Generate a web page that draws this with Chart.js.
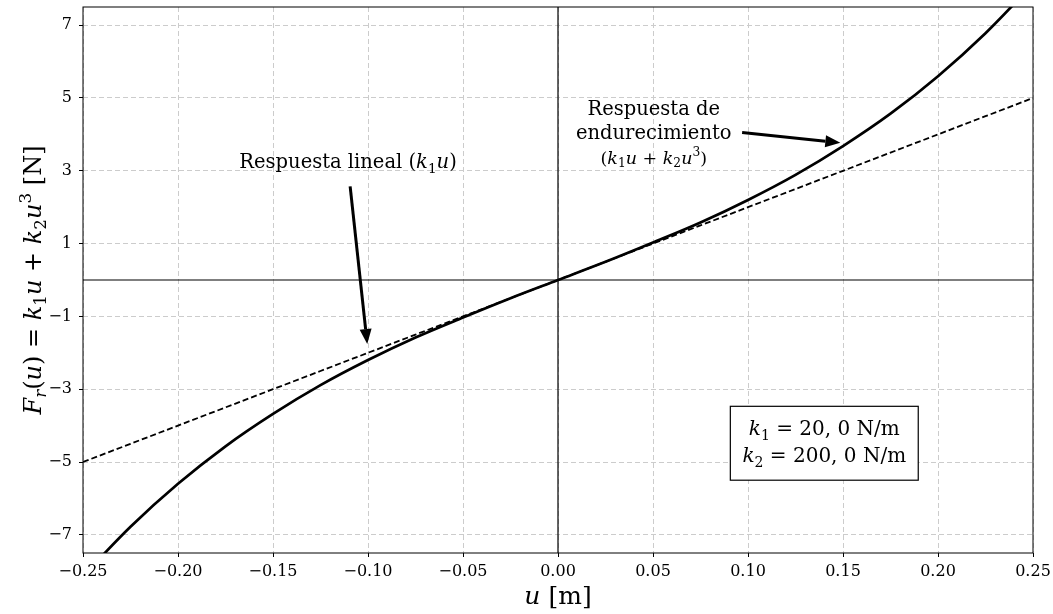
<!DOCTYPE html>
<html>
<head>
<meta charset="utf-8">
<script src="https://cdn.jsdelivr.net/npm/chart.js@4.4.1/dist/chart.umd.min.js"></script>
<style>html,body{margin:0;padding:0;background:#fff}</style>
</head>
<body>
<canvas id="chart" width="1053" height="614"></canvas>
<script>
// desplazamiento u [m]
const uVals = [-0.25, -0.225, -0.2, -0.175, -0.15, -0.125, -0.1, -0.075, -0.05, -0.025, 0,
               0.025, 0.05, 0.075, 0.1, 0.125, 0.15, 0.175, 0.2, 0.225, 0.25];
// respuesta lineal k1*u
const fLinear = [-5, -4.5, -4, -3.5, -3, -2.5, -2, -1.5, -1, -0.5, 0,
                 0.5, 1, 1.5, 2, 2.5, 3, 3.5, 4, 4.5, 5];
// respuesta de endurecimiento k1*u + k2*u^3
const fCubic = [-8.13, -6.78, -5.6, -4.57, -3.68, -2.89, -2.2, -1.58, -1.03, -0.5, 0,
                0.5, 1.03, 1.58, 2.2, 2.89, 3.68, 4.57, 5.6, 6.78, 8.13];
const xTicks = [-0.25, -0.2, -0.15, -0.1, -0.05, 0, 0.05, 0.1, 0.15, 0.2, 0.25];
const yTicks = [-7, -5, -3, -1, 1, 3, 5, 7];

const FAM = "'DejaVu Serif'";

function toPoints(ys) {
    return uVals.map((u, i) => ({x: u, y: ys[i]}));
}

function fmtMinus(s) {
    return s.replace('-', '\u2212');
}

// draw a run of text pieces: [text, kind] kind = r | i | sub | isub | sup
function mathText(ctx, parts, x, y, size, align) {
    const fontFor = k => {
        const it = (k === 'i' || k === 'isub');
        const small = (k === 'sub' || k === 'isub' || k === 'sup');
        return (it ? 'italic ' : '') + (small ? size * 0.7 : size) + 'px ' + FAM;
    };
    let w = 0;
    parts.forEach(p => { ctx.font = fontFor(p[1]); w += ctx.measureText(p[0]).width; });
    let cx = align === 'center' ? x - w / 2 : x;
    ctx.textAlign = 'left';
    ctx.textBaseline = 'alphabetic';
    ctx.fillStyle = '#000';
    parts.forEach(p => {
        ctx.font = fontFor(p[1]);
        let dy = 0;
        if (p[1] === 'sub' || p[1] === 'isub') dy = size * 0.22;
        if (p[1] === 'sup') dy = -size * 0.42;
        ctx.fillText(p[0], cx, y + dy);
        cx += ctx.measureText(p[0]).width;
    });
}

function arrow(ctx, x1, y1, x2, y2) {
    const ang = Math.atan2(y2 - y1, x2 - x1);
    const hl = 15, hw = 6;
    const bx = x2 - hl * Math.cos(ang), by = y2 - hl * Math.sin(ang);
    ctx.save();
    ctx.strokeStyle = '#000';
    ctx.fillStyle = '#000';
    ctx.lineWidth = 3;
    ctx.beginPath();
    ctx.moveTo(x1, y1);
    ctx.lineTo(bx, by);
    ctx.stroke();
    ctx.beginPath();
    ctx.moveTo(x2, y2);
    ctx.lineTo(bx + hw * Math.sin(ang), by - hw * Math.cos(ang));
    ctx.lineTo(bx - hw * Math.sin(ang), by + hw * Math.cos(ang));
    ctx.closePath();
    ctx.fill();
    ctx.restore();
}

const overlay = {
    id: 'overlay',
    beforeDatasetsDraw(chart) {
        const {ctx, chartArea: a, scales: {x, y}} = chart;
        ctx.save();
        ctx.strokeStyle = '#000';
        ctx.lineWidth = 1.2;
        ctx.beginPath();
        ctx.moveTo(a.left, y.getPixelForValue(0));
        ctx.lineTo(a.right, y.getPixelForValue(0));
        ctx.moveTo(x.getPixelForValue(0), a.top);
        ctx.lineTo(x.getPixelForValue(0), a.bottom);
        ctx.stroke();
        ctx.restore();
    },
    afterDraw(chart) {
        const {ctx, chartArea: a, scales: {x, y}} = chart;
        const px = v => x.getPixelForValue(v);
        const py = v => y.getPixelForValue(v);

        // frame
        ctx.save();
        ctx.strokeStyle = '#000';
        ctx.lineWidth = 1;
        ctx.strokeRect(a.left, a.top, a.right - a.left, a.bottom - a.top);
        ctx.restore();

        // annotations
        mathText(ctx, [['Respuesta lineal ', 'r'], ['(', 'r'], ['k', 'i'], ['1', 'sub'], ['u', 'i'], [')', 'r']],
                 px(-0.1105), py(3.07), 19.5, 'center');
        arrow(ctx, px(-0.1094), py(2.57), px(-0.1004), py(-1.76));

        mathText(ctx, [['Respuesta de', 'r']], px(0.0504), py(4.52), 19.5, 'center');
        mathText(ctx, [['endurecimiento', 'r']], px(0.0504), py(3.86), 19.5, 'center');
        mathText(ctx, [['(', 'r'], ['k', 'i'], ['1', 'sub'], ['u', 'i'], [' + ', 'r'], ['k', 'i'], ['2', 'sub'], ['u', 'i'], ['3', 'sup'], [')', 'r']],
                 px(0.0504), py(3.2), 17.5, 'center');
        arrow(ctx, px(0.0969), py(4.05), px(0.1486), py(3.77));

        // parameter box
        const bx1 = px(0.0907), bx2 = px(0.1896), by1 = py(-3.47), by2 = py(-5.5);
        ctx.save();
        ctx.fillStyle = '#fff';
        ctx.fillRect(bx1, by1, bx2 - bx1, by2 - by1);
        ctx.strokeStyle = '#000';
        ctx.lineWidth = 1.2;
        ctx.strokeRect(bx1, by1, bx2 - bx1, by2 - by1);
        ctx.restore();
        const bc = (bx1 + bx2) / 2;
        mathText(ctx, [['k', 'i'], ['1', 'sub'], [' = 20, 0 N/m', 'r']], bc, by1 + 29, 20, 'center');
        mathText(ctx, [['k', 'i'], ['2', 'sub'], [' = 200, 0 N/m', 'r']], bc, by1 + 56, 20, 'center');

        // axis titles
        mathText(ctx, [['u', 'i'], [' [m]', 'r']], (a.left + a.right) / 2, 604, 25, 'center');
        ctx.save();
        ctx.translate(41, (a.top + a.bottom) / 2);
        ctx.rotate(-Math.PI / 2);
        mathText(ctx, [['F', 'i'], ['r', 'isub'], ['(', 'r'], ['u', 'i'], [') = ', 'r'], ['k', 'i'], ['1', 'sub'], ['u', 'i'],
                       [' + ', 'r'], ['k', 'i'], ['2', 'sub'], ['u', 'i'], ['3', 'sup'], [' [N]', 'r']], 0, 0, 24, 'center');
        ctx.restore();
    }
};

const gridStyle = {
    color: '#cccccc',
    lineWidth: 1,
    drawTicks: true,
    tickLength: 4,
    tickColor: '#000',
    tickWidth: 1
};

new Chart(document.getElementById('chart'), {
    type: 'line',
    data: {
        datasets: [
            {
                label: 'Respuesta de endurecimiento',
                data: toPoints(fCubic),
                borderColor: '#000',
                borderWidth: 2.7,
                pointRadius: 0,
                cubicInterpolationMode: 'monotone',
                fill: false
            },
            {
                label: 'Respuesta lineal',
                data: toPoints(fLinear),
                borderColor: '#000',
                borderWidth: 1.8,
                borderDash: [6, 3],
                pointRadius: 0,
                fill: false
            }
        ]
    },
    options: {
        responsive: false,
        animation: false,
        layout: {padding: {top: 7, right: 20, left: 0, bottom: 0}},
        plugins: {legend: {display: false}, tooltip: {enabled: false}},
        scales: {
            x: {
                type: 'linear',
                min: -0.25,
                max: 0.25,
                afterBuildTicks: s => { s.ticks = xTicks.map(v => ({value: v})); },
                afterFit: s => { s.height = 61; s.paddingLeft = 0; s.paddingRight = 0; },
                grid: gridStyle,
                border: {display: false, dash: [5, 3]},
                ticks: {
                    color: '#000',
                    padding: 5,
                    maxRotation: 0,
                    font: {family: FAM, size: 16},
                    callback: v => fmtMinus((Math.abs(v) < 1e-9 ? 0 : v).toFixed(2))
                }
            },
            y: {
                min: -7.5,
                max: 7.5,
                afterBuildTicks: s => { s.ticks = yTicks.map(v => ({value: v})); },
                afterFit: s => { s.width = 83; s.paddingTop = 0; s.paddingBottom = 0; },
                grid: gridStyle,
                border: {display: false, dash: [5, 3]},
                ticks: {
                    color: '#000',
                    padding: 7,
                    font: {family: FAM, size: 16},
                    callback: v => fmtMinus(String(v))
                }
            }
        }
    },
    plugins: [overlay]
});
</script>
</body>
</html>
